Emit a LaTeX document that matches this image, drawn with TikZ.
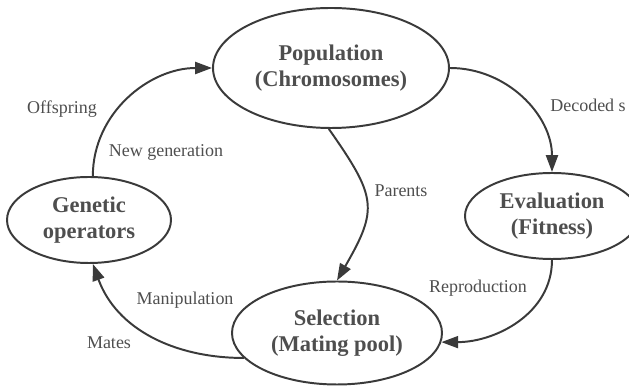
\documentclass[tikz,border=0pt]{standalone}
\usepackage{fontspec}
\setmainfont{Liberation Serif}
\usetikzlibrary{shapes.geometric,arrows.meta}
\definecolor{inkgray}{HTML}{3A3A3A}
\definecolor{textgray}{HTML}{4E4E4E}

\begin{document}
\begin{tikzpicture}[
  stage/.style = {draw = inkgray, line width = 1.4pt, ellipse, inner sep = 0pt, align = center,
    text = textgray, font = \fontsize{16}{18.5}\selectfont\bfseries},
  lbl/.style = {text = textgray, inner sep = 0pt, font = \fontsize{12.8}{15}\selectfont},
  flow/.style = {draw = inkgray, line width = 1.4pt, -{Triangle[length = 0.42cm, width = 0.3cm]}}
]
\clip (0, 0) rectangle (15.725, 9.675);
% the four stages
\node (pop) [stage, minimum width = 5.9cm, minimum height = 3cm] at (8.275, 7.975) {Population\\(Chromosomes)};
\node (genop) [stage, minimum width = 4.1cm, minimum height = 2.15cm] at (2.225, 4.175) {Genetic\\operators};
\node (eval) [stage, minimum width = 4.35cm, minimum height = 2.15cm] at (13.8, 4.275) {Evaluation\\(Fitness)};
\node (sel) [stage, minimum width = 5.25cm, minimum height = 2.575cm] at (8.425, 1.35) {Selection\\(Mating pool)};
% the cycle
\draw [flow] (genop.85) to [out = 90, in = 180] (pop.west);
\draw [flow] (pop.east) to [out = 0, in = 90] (eval.north);
\draw [flow] (pop.-92) to [out = -55, in = 60, looseness = 1.4] (sel.90);
\draw [flow] (eval.south) to [out = -90, in = 0] (sel.-5);
\draw [flow] (sel.195) to [out = 180, in = -70] (genop.-85);
% labels
\node (offspring) [lbl] at (1.55, 6.95) {Offspring};
\node (newgen) [lbl] at (4.15, 5.875) {New generation};
\node (decoded) [lbl, anchor = west] at (13.75, 7.05) {Decoded s};
\node (parents) [lbl] at (10.025, 4.9) {Parents};
\node (repro) [lbl] at (11.95, 2.475) {Reproduction};
\node (manip) [lbl] at (4.625, 2.175) {Manipulation};
\node (mates) [lbl] at (2.725, 1.1) {Mates};
\end{tikzpicture}
\end{document}
